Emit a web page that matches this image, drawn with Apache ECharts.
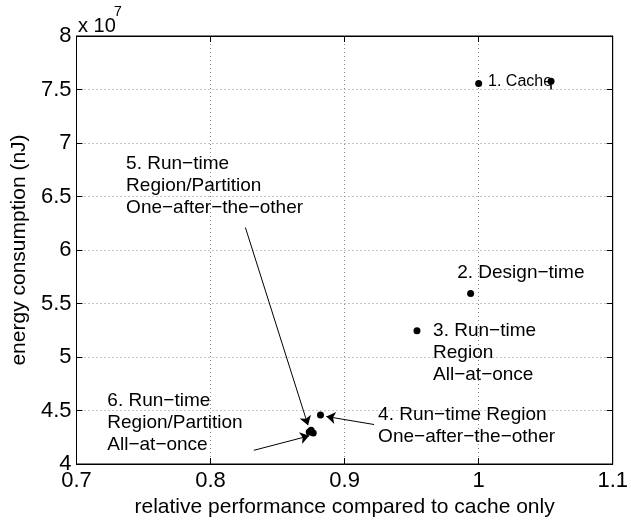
<!DOCTYPE html>
<html>
<head>
<meta charset="utf-8">
<script src="https://cdn.jsdelivr.net/npm/echarts@6/dist/echarts.min.js"></script>
<style>
html,body{margin:0;padding:0;background:#fff;}
#chart{width:631px;height:525px;}
</style>
</head>
<body>
<div id="chart"></div>
<script>
// relative performance (x) and energy consumption in units of 1e7 nJ (y)
const pointX = [1.000, 1.054, 0.994, 0.954, 0.882, 0.8736, 0.8766, 0.8750];
const pointY = [7.556, 7.577, 5.593, 5.246, 4.457, 4.300, 4.290, 4.315];

// small vertical stem on the second "Cache" point
const stemFrom = [1.054, 7.577];
const stemTo = [1.054, 7.500];

// annotation texts and their anchor (top-left) in data units
const labelTexts = [
  "1. Cache",
  "2. Design\u2212time",
  "3. Run\u2212time\nRegion\nAll\u2212at\u2212once",
  "4. Run\u2212time Region\nOne\u2212after\u2212the\u2212other",
  "5. Run\u2212time\nRegion/Partition\nOne\u2212after\u2212the\u2212other",
  "6. Run\u2212time\nRegion/Partition\nAll\u2212at\u2212once"
];
const labelX = [1.007, 0.984, 0.966, 0.925, 0.737, 0.723];
const labelY = [7.654, 5.889, 5.351, 4.560, 6.907, 4.694];
const labelSize = [16, 19, 19, 19, 19, 19];

// arrows
const arrowFrom = [[0.922, 4.369], [0.826, 6.210], [0.8323, 4.128]];
const arrowTo   = [[0.8864, 4.444], [0.8727, 4.363], [0.8736, 4.263]];

const xMin = 0.7, xMax = 1.1, xStep = 0.1;
const yMin = 4, yMax = 8, yStep = 0.5;

const FONT = "'Liberation Sans', Arial, Helvetica, sans-serif";

const chart = echarts.init(document.getElementById('chart'), null, {renderer: 'canvas'});

const gridLine = {show: true, lineStyle: {color: '#8a8a8a', type: [1, 3], width: 1}};

const option = {
  animation: false,
  backgroundColor: '#fff',
  textStyle: {fontFamily: FONT, color: '#000'},
  grid: {left: 76.5, right: 12, top: 36, bottom: 61, show: true, borderColor: '#000', borderWidth: 1, backgroundColor: 'transparent'},
  xAxis: [
    {
      type: 'value', min: xMin, max: xMax, interval: xStep, position: 'bottom',
      name: 'relative performance compared to cache only', nameLocation: 'middle', nameGap: 28,
      nameTextStyle: {fontFamily: FONT, fontSize: 21, color: '#000'},
      axisLine: {show: true, onZero: false, lineStyle: {color: '#000', width: 1}},
      axisTick: {show: true, inside: true, length: 6, lineStyle: {color: '#000'}},
      axisLabel: {fontFamily: FONT, fontSize: 22, color: '#000', margin: 6, showMaxLabel: true, showMinLabel: true},
      splitLine: gridLine
    },
    {
      type: 'value', min: xMin, max: xMax, interval: xStep, position: 'top',
      axisLine: {show: true, onZero: false, lineStyle: {color: '#000', width: 1}},
      axisTick: {show: true, inside: true, length: 6, lineStyle: {color: '#000'}},
      axisLabel: {show: false}, splitLine: {show: false}
    }
  ],
  yAxis: [
    {
      type: 'value', min: yMin, max: yMax, interval: yStep, position: 'left',
      name: 'energy consumption (nJ)', nameLocation: 'middle', nameGap: 45,
      nameTextStyle: {fontFamily: FONT, fontSize: 21, color: '#000'},
      axisLine: {show: true, onZero: false, lineStyle: {color: '#000', width: 1}},
      axisTick: {show: true, inside: true, length: 6, lineStyle: {color: '#000'}},
      axisLabel: {fontFamily: FONT, fontSize: 22, color: '#000', margin: 5, showMaxLabel: true, showMinLabel: true},
      splitLine: gridLine
    },
    {
      type: 'value', min: yMin, max: yMax, interval: yStep, position: 'right',
      axisLine: {show: true, onZero: false, lineStyle: {color: '#000', width: 1}},
      axisTick: {show: true, inside: true, length: 6, lineStyle: {color: '#000'}},
      axisLabel: {show: false}, splitLine: {show: false}
    }
  ],
  graphic: [
    {type: 'text', left: 78, top: 16, style: {text: 'x 10', fontFamily: FONT, fontSize: 20, fill: '#000'}},
    {type: 'text', left: 114, top: 5, style: {text: '7', fontFamily: FONT, fontSize: 14, fill: '#000'}}
  ],
  series: [
    {
      type: 'scatter', name: 'points',
      xAxisIndex: 0, yAxisIndex: 0,
      symbol: 'circle', symbolSize: 7,
      itemStyle: {color: '#000', opacity: 1},
      data: pointX.map((x, i) => [x, pointY[i]]),
      z: 5
    },
    {
      type: 'lines', name: 'stem', coordinateSystem: 'cartesian2d',
      xAxisIndex: 0, yAxisIndex: 0,
      symbol: ['none', 'none'],
      lineStyle: {color: '#000', width: 1.6, curveness: 0, opacity: 1},
      data: [{coords: [stemFrom, stemTo]}]
    },
    {
      type: 'lines', name: 'arrows', coordinateSystem: 'cartesian2d',
      xAxisIndex: 0, yAxisIndex: 0,
      symbol: ['none', 'arrow'], symbolSize: 9,
      lineStyle: {color: '#000', width: 1, curveness: 0, opacity: 1},
      itemStyle: {color: '#000'},
      data: arrowFrom.map((f, i) => ({coords: [f, arrowTo[i]]}))
    },
    {
      type: 'scatter', name: 'annotations',
      xAxisIndex: 0, yAxisIndex: 0,
      symbolSize: 0,
      silent: true,
      itemStyle: {color: '#000', opacity: 1},
      label: {show: true, color: '#000', opacity: 1, textBorderWidth: 0},
      data: labelTexts.map((t, i) => ({
        value: [labelX[i], labelY[i]],
        label: {
          show: true, position: [0, 0], align: 'left', verticalAlign: 'top',
          formatter: t, fontFamily: FONT, fontSize: labelSize[i],
          lineHeight: labelSize[i] === 16 ? 18 : 22, color: '#000', opacity: 1, textBorderWidth: 0
        }
      })),
      labelLayout: {hideOverlap: false},
      z: 6
    }
  ]
};
chart.setOption(option);
</script>
</body>
</html>
